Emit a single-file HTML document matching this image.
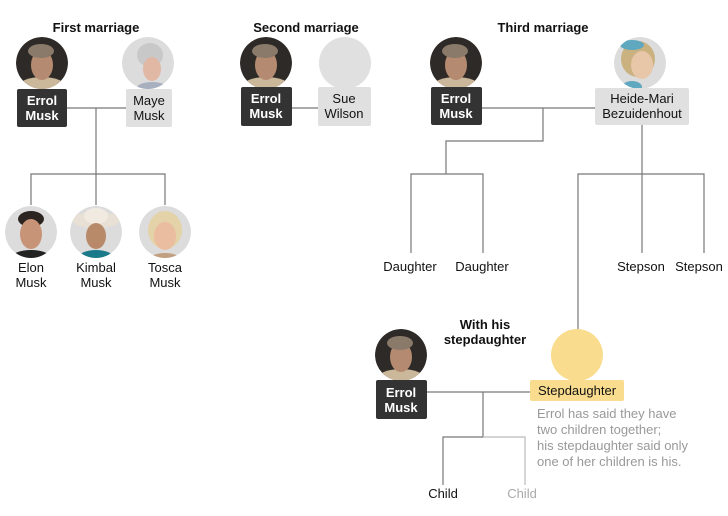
<!DOCTYPE html>
<html><head><meta charset="utf-8"><style>
html,body{margin:0;padding:0;background:#fff;width:728px;height:516px;overflow:hidden}
svg{display:block;font-family:"Liberation Sans",Arial,sans-serif}
.t{font-size:13px;font-weight:bold;fill:#111;text-anchor:middle}
.n{font-size:13px;fill:#121212;text-anchor:middle}
.w{font-size:13px;font-weight:bold;fill:#fff;text-anchor:middle}
.g{font-size:13px;fill:#999;}
line,polyline{stroke:#777;stroke-width:1.2;fill:none}
</style></head><body>
<svg width="728" height="516" viewBox="0 0 728 516" xmlns="http://www.w3.org/2000/svg">
<defs>
<clipPath id="c"><circle cx="0" cy="0" r="26"/></clipPath>
</defs>

<!-- connectors -->
<line x1="67" y1="108" x2="126" y2="108"/>
<polyline points="96,108 96,205"/>
<polyline points="31,205 31,174 165,174 165,205"/>
<line x1="292" y1="108" x2="318" y2="108"/>
<line x1="482" y1="108" x2="595" y2="108"/>
<polyline points="543,108 543,141 446,141 446,174"/>
<polyline points="411,253 411,174 483,174 483,253"/>
<line x1="642" y1="125" x2="642" y2="253"/>
<polyline points="578,330 578,174 704,174 704,253"/>
<line x1="427" y1="392" x2="530" y2="392"/>
<polyline points="483,392 483,437 443,437 443,485"/>
<polyline points="483,437 525,437 525,485" style="stroke:#bbb"/>

<!-- titles -->
<text class="t" x="96" y="32">First marriage</text>
<text class="t" x="306" y="32">Second marriage</text>
<text class="t" x="543" y="32">Third marriage</text>
<text class="t" x="485" y="329">With his</text>
<text class="t" x="485" y="344">stepdaughter</text>

<!-- Errol photo template drawn 4 times -->
<g id="e1" transform="translate(42,63)"><g clip-path="url(#c)"><circle r="26" fill="#2e2a27"/><ellipse cx="0" cy="24" rx="24" ry="10" fill="#cbb79a"/><ellipse cx="0" cy="2" rx="11" ry="15" fill="#b48a70"/><ellipse cx="-1" cy="-12" rx="13" ry="7" fill="#8a7a6a"/></g></g>
<g transform="translate(266,63)"><g clip-path="url(#c)"><circle r="26" fill="#2e2a27"/><ellipse cx="0" cy="24" rx="24" ry="10" fill="#cbb79a"/><ellipse cx="0" cy="2" rx="11" ry="15" fill="#b48a70"/><ellipse cx="-1" cy="-12" rx="13" ry="7" fill="#8a7a6a"/></g></g>
<g transform="translate(456,63)"><g clip-path="url(#c)"><circle r="26" fill="#2e2a27"/><ellipse cx="0" cy="24" rx="24" ry="10" fill="#cbb79a"/><ellipse cx="0" cy="2" rx="11" ry="15" fill="#b48a70"/><ellipse cx="-1" cy="-12" rx="13" ry="7" fill="#8a7a6a"/></g></g>
<g transform="translate(401,355)"><g clip-path="url(#c)"><circle r="26" fill="#2e2a27"/><ellipse cx="0" cy="24" rx="24" ry="10" fill="#cbb79a"/><ellipse cx="0" cy="2" rx="11" ry="15" fill="#b48a70"/><ellipse cx="-1" cy="-12" rx="13" ry="7" fill="#8a7a6a"/></g></g>

<!-- Maye -->
<g transform="translate(148,63)"><g clip-path="url(#c)"><circle r="26" fill="#dcdcdc"/><ellipse cx="2" cy="-8" rx="13" ry="12" fill="#c8c8c8"/><ellipse cx="4" cy="6" rx="9" ry="12" fill="#e0b8a4"/><ellipse cx="4" cy="26" rx="16" ry="7" fill="#a8b0c0"/></g></g>
<!-- Sue -->
<circle cx="345" cy="63" r="26" fill="#e0e0e0"/>
<!-- Heide -->
<g transform="translate(640,63)"><g clip-path="url(#c)"><circle r="26" fill="#dcdcdc"/><ellipse cx="-2" cy="-4" rx="17" ry="18" fill="#c9b180"/><ellipse cx="2" cy="2" rx="11" ry="14" fill="#e8c6a8"/><ellipse cx="-8" cy="-18" rx="12" ry="5" fill="#5fa8c0"/><ellipse cx="-8" cy="24" rx="10" ry="6" fill="#5fa8c0"/></g></g>
<!-- Stepdaughter -->
<circle cx="577" cy="355" r="26" fill="#f9dc8e"/>

<!-- children photos -->
<g transform="translate(31,232)"><g clip-path="url(#c)"><circle r="26" fill="#dcdcdc"/><ellipse cx="0" cy="-13" rx="13" ry="8" fill="#2b2420"/><ellipse cx="0" cy="2" rx="11" ry="15" fill="#c89478"/><ellipse cx="0" cy="26" rx="20" ry="8" fill="#222"/></g></g>
<g transform="translate(96,232)"><g clip-path="url(#c)"><circle r="26" fill="#dcdcdc"/><ellipse cx="0" cy="-12" rx="24" ry="8" fill="#e8e0d4"/><ellipse cx="0" cy="-16" rx="12" ry="8" fill="#f0eae0"/><ellipse cx="0" cy="4" rx="10" ry="13" fill="#b88a6a"/><ellipse cx="0" cy="26" rx="18" ry="8" fill="#1a7a8a"/></g></g>
<g transform="translate(165,232)"><g clip-path="url(#c)"><circle r="26" fill="#dcdcdc"/><ellipse cx="0" cy="-2" rx="17" ry="19" fill="#e4d2a8"/><ellipse cx="0" cy="4" rx="11" ry="14" fill="#eabca0"/><ellipse cx="0" cy="28" rx="16" ry="7" fill="#c0a080"/></g></g>

<!-- boxes -->
<rect x="17" y="89" width="50" height="38" rx="2" fill="#333"/>
<text class="w" x="42" y="105">Errol</text><text class="w" x="42" y="120">Musk</text>
<rect x="126" y="89" width="46" height="38" rx="2" fill="#e0e0e0"/>
<text class="n" x="149" y="105">Maye</text><text class="n" x="149" y="120">Musk</text>

<rect x="241" y="87" width="51" height="39" rx="2" fill="#333"/>
<text class="w" x="266" y="103">Errol</text><text class="w" x="266" y="118">Musk</text>
<rect x="318" y="87" width="53" height="39" rx="2" fill="#e0e0e0"/>
<text class="n" x="344" y="103">Sue</text><text class="n" x="344" y="118">Wilson</text>

<rect x="431" y="87" width="51" height="38" rx="2" fill="#333"/>
<text class="w" x="456" y="103">Errol</text><text class="w" x="456" y="118">Musk</text>
<rect x="595" y="88" width="94" height="37" rx="2" fill="#e0e0e0"/>
<text class="n" x="642" y="103">Heide-Mari</text><text class="n" x="642" y="118">Bezuidenhout</text>

<rect x="376" y="380" width="51" height="39" rx="2" fill="#333"/>
<text class="w" x="401" y="397">Errol</text><text class="w" x="401" y="412">Musk</text>
<rect x="530" y="380" width="94" height="21" rx="2" fill="#f9dc8e"/>
<text class="n" x="577" y="395">Stepdaughter</text>

<!-- labels -->
<text class="n" x="31" y="272">Elon</text><text class="n" x="31" y="287">Musk</text>
<text class="n" x="96" y="272">Kimbal</text><text class="n" x="96" y="287">Musk</text>
<text class="n" x="165" y="272">Tosca</text><text class="n" x="165" y="287">Musk</text>
<text class="n" x="410" y="271">Daughter</text>
<text class="n" x="482" y="271">Daughter</text>
<text class="n" x="641" y="271">Stepson</text>
<text class="n" x="699" y="271">Stepson</text>
<text class="n" x="443" y="498">Child</text>
<text class="n" x="522" y="498" style="fill:#aaa">Child</text>

<text class="g" x="537" y="418">Errol has said they have</text>
<text class="g" x="537" y="434">two children together;</text>
<text class="g" x="537" y="450">his stepdaughter said only</text>
<text class="g" x="537" y="466">one of her children is his.</text>
</svg>
</body></html>
